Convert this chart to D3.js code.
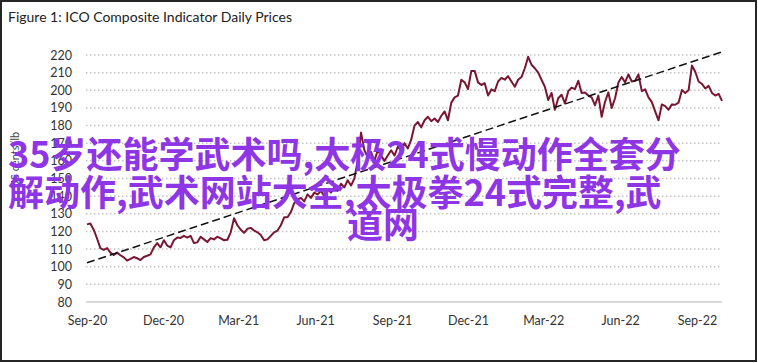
<!DOCTYPE html>
<html>
<head>
<meta charset="utf-8">
<script src="https://cdn.jsdelivr.net/npm/d3@7"></script>
<style>
  body { margin: 0; background: #fff; }
  svg { display: block; }
</style>
</head>
<body>
<div id="chart"></div>
<script>
// ICO composite indicator, every 4 days
var startDate = "2020-09-01";
var endDate = "2022-10-01";
var stepDays = 4;
var prices = [
  124, 124.5, 121, 116, 110.5, 109.5, 110.6, 108, 106.6, 108,
  106.5, 105.3, 103.5, 104.5, 105.5, 104.8, 103.8, 105.5, 106.2, 107,
  111, 113.4, 111, 115, 112, 111, 115, 116.5, 116.3, 117.5,
  116.5, 117.5, 113.4, 113.8, 117, 115.5, 114, 116.2, 115.5, 117,
  116, 115, 115.3, 119.5, 127.5, 123.5, 121, 119.2, 121.5, 122,
  120.5, 119.5, 118, 115, 115.5, 117.5, 119.5, 120.5, 123.5, 128,
  128, 131, 136, 138, 139, 137, 141, 139, 142, 141,
  143, 140, 144, 142, 145, 143, 147, 145, 149, 146,
  150, 160, 176, 166, 162, 165, 160, 166, 163, 160,
  163, 166, 163, 168, 166, 170, 167, 172, 180, 182,
  179, 183, 185, 182.5, 184, 182, 185.5, 188, 183, 193,
  196, 197, 206, 204.5, 200.7, 211, 211, 204.5, 203, 204,
  197, 200.5, 199.5, 205, 207, 206, 208, 205, 202, 206,
  207.5, 212.5, 219, 214.5, 212.5, 210, 206, 202, 194.5, 198.5,
  189, 195.5, 197.5, 192.5, 199.5, 201.5, 200.7, 205.4, 198.5, 198.8,
  197, 196, 191.5, 197, 185, 193.5, 198.8, 190, 195.5, 204.4,
  207.5, 204.5, 209, 205, 205.4, 209, 199.5, 200.5, 196, 193.3,
  188, 183, 192, 191, 189, 192, 191.8, 193, 200.2, 198.5,
  200, 214, 210.5, 205, 203.6, 201, 202.5, 198.5, 197, 198,
  194
];
var trendDates = ["2020-09-01", "2022-10-01"];
var trendValues = [102.2, 221.8];
var yTicks = [80, 90, 100, 110, 120, 130, 140, 150, 160, 170, 180, 190, 200, 210, 220];
var xTicks = ["2020-09-01", "2020-12-01", "2021-03-01", "2021-06-01", "2021-09-01",
              "2021-12-01", "2022-03-01", "2022-06-01", "2022-09-01"];

var titleText = "Figure 1: ICO Composite Indicator Daily Prices";
var yTitle = "US cents/lb";
var overlayLines = ["35岁还能学武术吗,太极24式慢动作全套分", "解动作,武术网站大全,太极拳24式完整,武", "道网"];

var width = 758, height = 363;
var parse = d3.timeParse("%Y-%m-%d");
var fmt = d3.timeFormat("%b-%y");

var series = prices.map(function(v, i) {
    return { date: d3.timeDay.offset(parse(startDate), i * stepDays), value: v };
});
var trend = trendDates.map(function(d, i) {
    return { date: parse(d), value: trendValues[i] };
});

var x = d3.scaleTime()
    .domain([parse(startDate), parse(endDate)])
    .range([87, 722]);
var y = d3.scaleLinear()
    .domain([80, 220])
    .range([302, 55]);

var svg = d3.select("#chart").append("svg")
    .attr("width", width)
    .attr("height", height);

svg.append("rect")
    .attr("x", 0).attr("y", 0)
    .attr("width", width).attr("height", height)
    .style("fill", "#fff");

// outer frame
svg.append("rect")
    .attr("x", 1).attr("y", 1)
    .attr("width", width - 3).attr("height", height - 3)
    .style("fill", "none")
    .style("stroke", "#262626")
    .style("stroke-width", 2);

svg.append("text")
    .attr("x", 8)
    .attr("y", 22)
    .style("font-family", "Lato, 'Open Sans', sans-serif")
    .style("font-size", "14px")
    .style("fill", "#222")
    .text(titleText);

// grid lines
svg.append("g").selectAll("line")
    .data(yTicks)
    .enter().append("line")
    .attr("x1", 86).attr("x2", 722)
    .attr("y1", function(d) { return y(d); })
    .attr("y2", function(d) { return y(d); })
    .style("stroke", function(d) { return d === 80 ? "#d9d9d9" : "#c4c4c4"; })
    .style("stroke-width", function(d) { return d === 80 ? 2 : 1.5; })
    .style("stroke-dasharray", function(d) { return d === 80 ? null : "1.5,2.5"; });

var yAxis = svg.append("g")
    .attr("transform", "translate(78,0)")
    .call(d3.axisLeft(y).tickValues(yTicks).tickSize(0).tickPadding(6));
yAxis.select(".domain").remove();
yAxis.selectAll("text")
    .style("font-family", "Lato, 'Open Sans', sans-serif")
    .style("font-size", "12.5px")
    .style("fill", "#333");

var xAxis = svg.append("g")
    .attr("transform", "translate(0,310)")
    .call(d3.axisBottom(x).tickValues(xTicks.map(parse)).tickFormat(fmt).tickSize(0).tickPadding(6));
xAxis.select(".domain").remove();
xAxis.selectAll("text")
    .style("font-family", "Lato, 'Open Sans', sans-serif")
    .style("font-size", "12.5px")
    .style("fill", "#333");

svg.append("text")
    .attr("transform", "translate(19,160) rotate(-90)")
    .attr("text-anchor", "middle")
    .style("font-family", "Lato, 'Open Sans', sans-serif")
    .style("font-size", "11px")
    .style("fill", "#444")
    .text(yTitle);

var line = d3.line()
    .x(function(d) { return x(d.date); })
    .y(function(d) { return y(d.value); });

svg.append("path")
    .datum(series)
    .attr("d", line)
    .style("fill", "none")
    .style("stroke", "#7a1631")
    .style("stroke-width", 2)
    .style("stroke-linejoin", "round");

svg.append("path")
    .datum(trend)
    .attr("d", line)
    .style("fill", "none")
    .style("stroke", "#111")
    .style("stroke-width", 1.5)
    .style("stroke-dasharray", "8,4");

// purple overlay text
var overlay = svg.append("g")
    .style("font-family", "'Noto Sans CJK SC', sans-serif")
    .style("font-weight", "bold")
    .style("font-size", "36px")
    .style("fill", "#8e35e6");
overlay.append("text").attr("x", 8).attr("y", 168).text(overlayLines[0]);
overlay.append("text").attr("x", 8).attr("y", 206).text(overlayLines[1]);
overlay.append("text").attr("x", 383).attr("y", 238).attr("text-anchor", "middle").text(overlayLines[2]);
</script>
</body>
</html>
